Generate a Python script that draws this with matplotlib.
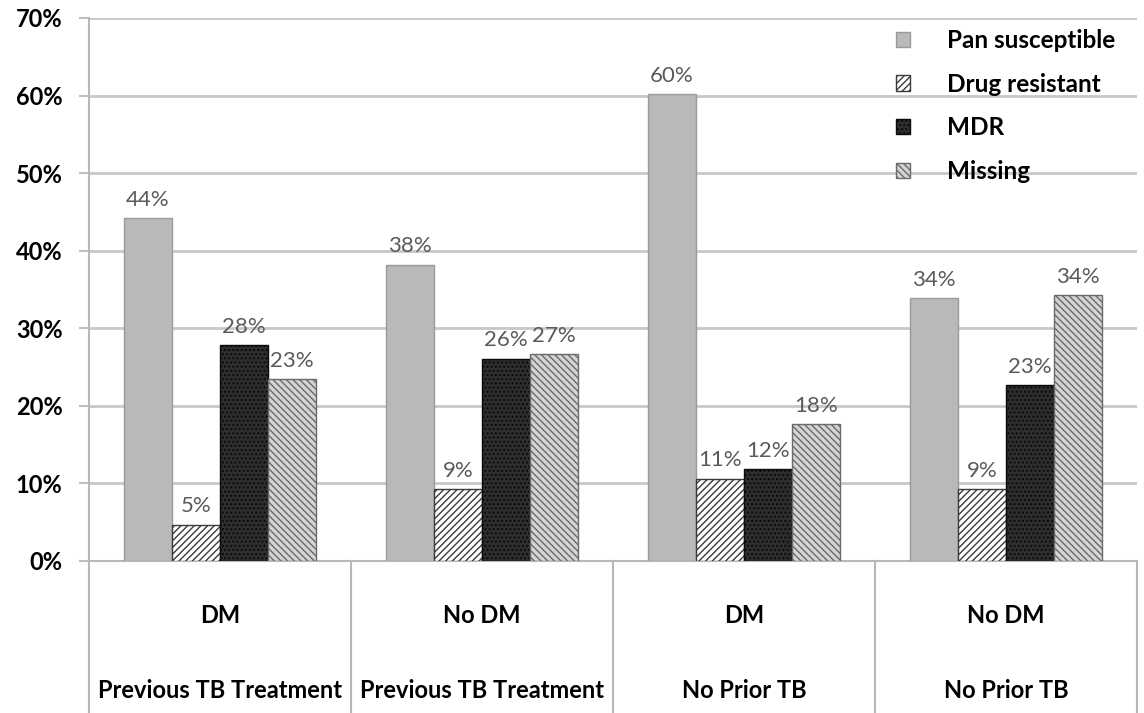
import numpy as np
import matplotlib
matplotlib.use("Agg")
from matplotlib import pyplot as plt
from matplotlib.patches import Patch

plt.rcParams['font.family'] = ['Lato', 'DejaVu Sans']
plt.rcParams['hatch.linewidth'] = 1.0

groups_top = ['DM', 'No DM', 'DM', 'No DM']
groups_bottom = ['Previous TB Treatment', 'Previous TB Treatment',
                 'No Prior TB', 'No Prior TB']

series = ['Pan susceptible', 'Drug resistant', 'MDR', 'Missing']
pan = [44.2, 38.2, 60.2, 33.9]
drug_res = [4.7, 9.3, 10.6, 9.3]
mdr = [27.8, 26.1, 11.8, 22.7]
missing = [23.4, 26.7, 17.6, 34.3]

yticks = [0, 10, 20, 30, 40, 50, 60, 70]

# fill, edge/hatch colour, hatch
styles = [('#b9b9b9', '#9a9a9a', None),
          ('white', '#3a3a3a', '/////'),
          ('#2e2e2e', '#0a0a0a', '....'),
          ('#d4d4d4', '#6a6a6a', '\\\\\\\\\\')]

fig = plt.figure(figsize=(11.44, 7.13), dpi=100)
ax = fig.add_axes([0.0778, 0.2132, 0.916, 0.7616])

x = np.arange(len(groups_top))
w = 0.184
offsets = (np.arange(4) - 1.5) * w
for vals, name, off, (fc, ec, h) in zip([pan, drug_res, mdr, missing], series, offsets, styles):
    bars = ax.bar(x + off, vals, w, color=fc, edgecolor=ec, hatch=h,
                  linewidth=1.0, label=name, zorder=3)
    for b, v in zip(bars, vals):
        ax.annotate('%d%%' % round(v), (b.get_x() + b.get_width() / 2, v),
                    xytext=(0, 6), textcoords='offset points',
                    ha='center', va='bottom', fontsize=16, color='#5a5a5a')

ax.set_xlim(-0.5, 3.5)
ax.set_ylim(0, 70)
ax.set_yticks(yticks)
ax.set_yticklabels(['%d%%' % t for t in yticks], fontsize=17, fontweight='bold')
ax.yaxis.grid(True, color='#c8c8c8', linewidth=2.0, zorder=0)
ax.tick_params(axis='y', length=7, width=1.5, color='#c0c0c0', pad=12)
ax.set_xticks([])
for s in ['top', 'right']:
    ax.spines[s].set_visible(False)
ax.spines['left'].set_color('#b8b8b8')
ax.spines['left'].set_linewidth(1.5)
ax.spines['bottom'].set_color('#b8b8b8')
ax.spines['bottom'].set_linewidth(1.5)

# category table below the axis
trans = ax.get_xaxis_transform()
for xs in np.arange(len(groups_top) + 1) - 0.5:
    ax.plot([xs, xs], [0, -0.3], transform=trans, color='#b8b8b8',
            linewidth=1.5, clip_on=False)
for xi, top, bottom in zip(x, groups_top, groups_bottom):
    ax.text(xi, -0.1, top, transform=trans, ha='center', va='center',
            fontsize=17, fontweight='bold')
    ax.text(xi, -0.238, bottom, transform=trans, ha='center', va='center',
            fontsize=17, fontweight='bold')

handles = [Patch(facecolor=fc, edgecolor=ec, hatch=h, label=n)
           for n, (fc, ec, h) in zip(series, styles)]
leg = ax.legend(handles=handles, loc='upper right', bbox_to_anchor=(1.0, 1.02),
                frameon=False, prop={'size': 17.5, 'weight': 'bold'},
                handlelength=0.6, handleheight=0.6,
                handletextpad=1.5, labelspacing=0.85)

fig.savefig('out.png', dpi=100)
